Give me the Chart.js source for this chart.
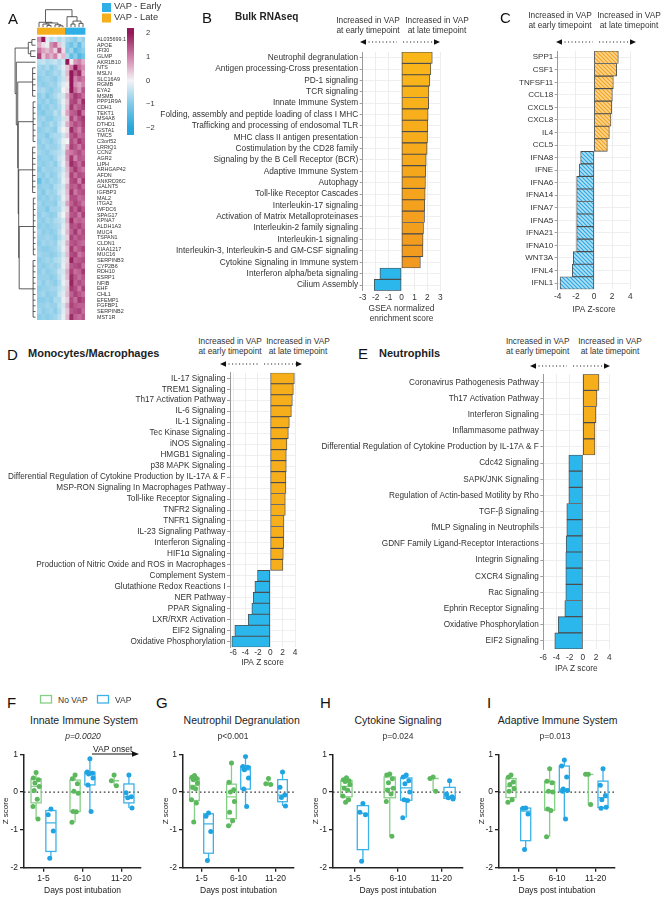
<!DOCTYPE html>
<html><head><meta charset="utf-8">
<script src="https://cdn.jsdelivr.net/npm/chart.js@4.4.1/dist/chart.umd.min.js"></script>
<style>
body{margin:0;width:666px;height:899px;background:#fff;position:relative;overflow:hidden;font-family:"Liberation Sans",Arial,sans-serif;color:#222}
canvas{position:absolute}
.t{position:absolute;white-space:nowrap;line-height:1}
.hd{position:absolute;font-size:8.3px;line-height:9.6px;text-align:center;color:#333;transform:translateX(-50%);white-space:nowrap}
.let{position:absolute;font-size:15px;line-height:1;color:#111}
.ct{position:absolute;transform:translateX(-50%);white-space:nowrap;line-height:1}
#ov{position:absolute;left:0;top:0;pointer-events:none}
</style></head><body>
<script>
// ---------------- DATA ----------------
// Panel A heatmap
const heatGenes = ['AL035699.1','APOE','IFI30','GLMP','AKR1B10','NTS','MSLN','SLC16A9','RGMB','EYA2','MSMB','PPP1R9A','CDH1','TEKT1','MS4A8','DTHD1','GSTA1','TMC5','C3orf52','LRRIQ1','CCN2','AGR2','LIPH','ARHGAP42','AFDN','ANKRD36C','GALNT5','IGFBP3','MAL2','ITGA2','WFDC6','SPAG17','KPNA7','ALDH1A3','MUC4','TSPAN1','CLDN1','KIAA1217','MUC16','SERPINB3','CYP2B6','RDH10','ESRP1','NFIB','EHF','CHL1','EFEMP1','FGFBP1','SERPINB2','MST1R'];
const heatSampleGroups = ['Late','Late','Late','Late','Late','Late','Late','Early','Early','Early','Early','Early'];
const heatValues = [
[0.9,2.2,-0.2,-0.5,-0.3,-0.6,-0.4,-0.7,-0.8,-1.0,-0.6,-0.8],
[0.6,0.2,-0.1,0.9,1.2,0.4,-0.3,-0.9,-1.2,-0.8,-1.3,-0.7],
[1.1,0.7,0.5,0.8,0.3,1.4,0.2,-1.0,-0.7,-1.4,-1.1,-0.9],
[1.6,0.4,0.9,0.6,1.0,0.2,0.5,-0.6,-1.3,-0.9,-1.5,-1.2],
[-0.5,-0.4,-0.6,-0.5,-0.4,-0.6,-0.3,2.3,0.1,0.8,1.0,0.6],
[-0.7,-0.8,-0.6,-0.9,-0.7,-0.5,-0.2,0.4,1.0,2.0,1.2,0.9],
[-0.8,-0.7,-0.9,-0.8,-0.6,-0.7,-0.3,0.5,2.2,1.4,1.8,0.7],
[-0.9,-0.8,-0.7,-0.8,-0.9,-0.6,-0.4,0.3,2.0,1.0,1.3,1.1],
[-0.8,-0.9,-0.8,-0.7,-0.8,-0.5,-0.2,0.1,2.3,0.9,0.7,1.0],
[-0.7,-0.6,-0.8,-0.9,-0.7,-0.6,0.0,0.2,2.1,1.2,0.8,1.4],
[-0.9,-0.7,-1.0,-0.8,-0.6,-0.4,-0.3,0.6,1.3,1.7,1.5,1.2],
[-0.8,-0.9,-0.7,-0.9,-0.8,-0.5,-0.1,0.4,1.5,1.6,1.1,1.8],
[-1.0,-0.8,-0.9,-0.7,-0.8,-0.6,-0.2,0.5,1.7,1.2,1.4,1.6],
[-0.9,-1.0,-0.8,-0.8,-0.5,-0.7,0.1,0.7,1.3,1.4,1.8,1.1],
[-0.8,-0.7,-0.9,-0.9,-0.7,-0.6,-0.3,0.3,1.6,1.1,1.5,1.7],
[-0.7,-0.9,-0.8,-0.6,-0.8,-0.5,-0.2,0.6,1.2,1.5,1.3,1.6],
[-0.9,-0.8,-0.7,-0.8,-0.9,-0.4,0.0,0.2,1.8,1.3,1.0,1.5],
[-0.8,-0.8,-1.0,-0.7,-0.6,-0.6,-0.3,0.4,1.4,1.6,1.2,1.3],
[-0.9,-0.7,-0.8,-0.9,-0.7,-0.5,-0.1,0.0,1.5,1.2,1.7,1.4],
[-0.8,-0.9,-0.7,-0.8,-0.8,-0.6,-0.2,0.5,1.6,1.4,1.1,1.5],
[-0.7,-0.8,-0.9,-0.7,-0.6,-0.5,-0.3,0.9,1.1,1.3,1.5,1.2],
[-0.9,-0.8,-0.8,-0.9,-0.7,-0.4,-0.2,0.8,1.7,1.0,1.4,1.3],
[-0.8,-0.9,-0.8,-0.7,-0.9,-0.5,-0.1,0.6,1.8,1.5,1.2,1.6],
[-1.0,-0.7,-0.8,-0.8,-0.7,-0.6,-0.3,0.5,1.3,1.7,1.3,1.1],
[-0.8,-0.9,-0.7,-0.9,-0.8,-0.5,-0.2,0.4,1.6,1.2,1.5,1.4],
[-1.3,-0.8,-0.9,-0.7,-0.8,-0.6,-0.1,0.3,1.5,1.6,1.0,1.7],
[-0.9,-0.8,-0.8,-0.9,-0.6,-0.5,-0.3,0.6,1.4,1.3,1.6,1.2],
[-0.8,-1.0,-0.7,-0.8,-0.7,-0.4,-0.2,0.5,1.7,1.1,1.4,1.5],
[-0.9,-0.8,-0.9,-0.7,-0.8,-0.6,-0.1,0.4,1.5,1.5,1.2,1.3],
[-0.7,-0.9,-0.8,-0.8,-0.9,-0.5,-0.3,0.7,1.3,1.6,1.4,1.1],
[-0.8,-0.8,-1.0,-0.7,-0.7,-0.6,-0.2,0.3,1.6,1.3,1.7,1.4],
[-0.9,-0.7,-0.8,-0.9,-0.8,-0.4,0.0,0.5,1.4,1.5,1.1,1.6],
[-0.8,-0.9,-0.7,-0.8,-0.6,-0.5,-0.3,0.6,1.8,1.2,1.3,1.2],
[-0.9,-0.8,-0.9,-0.8,-0.7,-0.6,-0.2,0.4,1.5,1.4,1.6,1.3],
[-0.7,-0.9,-0.8,-0.9,-0.8,-0.5,-0.1,0.5,1.3,1.7,1.2,1.5],
[-0.8,-0.8,-0.7,-0.8,-0.9,-0.6,-0.3,0.3,1.6,1.3,1.5,1.4],
[-0.9,-0.7,-0.8,-0.7,-0.8,-0.4,-0.2,0.6,1.4,1.5,1.3,1.2],
[-0.8,-0.9,-0.9,-0.8,-0.7,-0.5,-0.1,0.4,1.7,1.2,1.4,1.6],
[-0.7,-0.8,-0.8,-0.9,-0.8,-0.6,-0.3,0.5,1.5,1.6,1.1,1.3],
[-0.9,-0.8,-0.7,-0.8,-0.6,-0.5,-0.2,0.3,1.9,1.3,1.4,1.5],
[-0.8,-0.9,-0.8,-0.7,-0.8,-0.6,-0.1,0.4,1.4,1.5,1.6,1.2],
[-0.9,-0.7,-0.9,-0.8,-0.7,-0.4,-0.3,0.6,1.6,1.2,1.3,1.7],
[-0.8,-0.8,-0.8,-0.9,-0.8,-0.5,-0.2,0.5,1.8,1.4,1.2,1.4],
[-0.7,-0.9,-0.7,-0.8,-0.9,-0.6,-0.1,0.3,1.9,1.3,1.5,1.3],
[-0.9,-0.8,-0.8,-0.7,-0.7,-0.5,-0.3,0.4,1.7,1.5,1.1,1.6],
[-0.8,-0.7,-0.9,-0.8,-0.8,-0.4,-0.2,0.5,1.3,1.6,1.4,1.2],
[-0.9,-0.9,-0.8,-0.9,-0.6,-0.6,-0.1,0.3,1.5,1.2,1.7,1.5],
[-0.8,-0.8,-0.7,-0.8,-0.8,-0.5,-0.3,0.6,1.6,1.4,1.3,1.3],
[-0.7,-0.9,-0.8,-0.7,-0.9,-0.6,-0.2,0.4,1.4,1.5,1.6,1.2],
[-0.9,-0.8,-0.9,-0.8,-0.7,-0.5,-0.1,0.5,1.8,1.3,1.2,1.4]];
const heatLegendTicks = [-2,-1,0,1,2];
const heatLegendRange = [-2.29, 2.21];
// sample and gene clustering (merge heights, leaves = column / row index)
const sampleTree = {h:1,c:[{h:0.28,c:[0,{h:0.24,c:[{h:0.18,c:[1,{h:0.1,c:[2,3]}]},{h:0.14,c:[4,{h:0.08,c:[5,6]}]}]}]},{h:0.6,c:[7,{h:0.35,c:[{h:0.18,c:[8,9]},{h:0.22,c:[10,11]}]}]}]};
const geneTree = {h:0.85,c:[{h:0.3,c:[{h:0.15,c:[0,1]},{h:0.2,c:[2,3]}]},{h:0.8,c:[4,{h:0.74,c:[{h:0.12,c:[5,6,7,8,9,10]},{h:0.72,c:[{h:0.1,c:[11,12,13,14,15,16,17,18]},{h:0.7,c:[{h:0.12,c:[19,20,21,22,23,24,25,26,27]},{h:0.68,c:[{h:0.09,c:[28,29,30,31,32,33,34,35,36,37,38]},{h:0.1,c:[39,40,41,42,43,44,45,46,47,48,49]}]}]}]}]}]}]};

// Panel B
const bulkPathways = ['Neutrophil degranulation','Antigen processing-Cross presentation','PD-1 signaling','TCR signaling','Innate Immune System','Folding, assembly and peptide loading of class I MHC','Trafficking and processing of endosomal TLR','MHC class II antigen presentation','Costimulation by the CD28 family','Signaling by the B Cell Receptor (BCR)','Adaptive Immune System','Autophagy','Toll-like Receptor Cascades','Interleukin-17 signaling','Activation of Matrix Metalloproteinases','Interleukin-2 family signaling','Interleukin-1 signaling','Interleukin-3, Interleukin-5 and GM-CSF signaling','Cytokine Signaling in Immune system','Interferon alpha/beta signaling','Cilium Assembly'];
const bulkNES = [2.38,2.27,2.19,2.12,2.1,2.06,2.04,2.01,1.98,1.91,1.88,1.85,1.83,1.8,1.78,1.7,1.67,1.66,1.46,-1.67,-2.11];
const bulkTicks = [-3,-2,-1,0,1,2,3];

// Panel C
const ipaRegulators = ['SPP1','CSF1','TNFSF11','CCL18','CXCL5','CXCL8','IL4','CCL5','IFNA8','IFNE','IFNA6','IFNA14','IFNA7','IFNA5','IFNA21','IFNA10','WNT3A','IFNL4','IFNL1'];
const ipaRegZ = [2.68,2.5,2.13,2.02,1.94,1.87,1.69,1.47,-1.47,-1.61,-1.91,-1.91,-1.91,-1.91,-1.91,-1.91,-2.28,-2.39,-3.74];
const ipaRegTicks = [-4,-2,0,2,4];

// Panel D
const monoPathways = ['IL-17 Signaling','TREM1 Signaling','Th17 Activation Pathway','IL-6 Signaling','IL-1 Signaling','Tec Kinase Signaling','iNOS Signaling','HMGB1 Signaling','p38 MAPK Signaling','Differential Regulation of Cytokine Production by IL-17A & F','MSP-RON Signaling In Macrophages Pathway','Toll-like Receptor Signaling','TNFR2 Signaling','TNFR1 Signaling','IL-23 Signaling Pathway','Interferon Signaling','HIF1\u03b1 Signaling','Production of Nitric Oxide and ROS in Macrophages','Complement System','Glutathione Redox Reactions I','NER Pathway','PPAR Signaling','LXR/RXR Activation','EIF2 Signaling','Oxidative Phosphorylation'];
const monoZ = [3.89,3.73,3.57,3.41,3.08,2.92,2.7,2.59,2.59,2.54,2.54,2.43,2.43,2.22,2.22,2.16,2.11,2.05,-2.05,-2.48,-2.75,-2.97,-3.56,-5.72,-6.2];

// Panel E
const neutPathways = ['Coronavirus Pathogenesis Pathway','Th17 Activation Pathway','Interferon Signaling','Inflammasome pathway','Differential Regulation of Cytokine Production by IL-17A & F','Cdc42 Signaling','SAPK/JNK Signaling','Regulation of Actin-based Motility by Rho','TGF-\u03b2 Signaling','fMLP Signaling in Neutrophils','GDNF Family Ligand-Receptor Interactions','Integrin Signaling','CXCR4 Signaling','Rac Signaling','Ephrin Receptor Signaling','Oxidative Phosphorylation','EIF2 Signaling'];
const neutZ = [2.44,2.13,1.98,1.83,1.83,-2.13,-2.13,-2.13,-2.44,-2.44,-2.54,-2.59,-2.59,-2.59,-2.74,-3.74,-4.26];
const ipaTicks = [-6,-4,-2,0,2,4];

// Panels F-I  (z scores per day bin: [1-5],[6-10],[11-20])
const dayBins = ['1-5','6-10','11-20'];
const zTicks = [-2,-1,0,1];
const innateNoVAP = [[0.52,0.37,0.33,0.24,0.15,0.04,-0.19,-0.38,-0.71],[0.45,0.35,0.22,0.02,-0.03,-0.51,-0.52,-0.8],[0.45,0.3,0.17]];
const innateVAP   = [[-0.45,-0.6,-1.03,-1.75],[0.88,0.53,0.5,0.48,0.37,0.19,-0.51],[0.45,-0.02,-0.12,-0.15,-0.42]];
const neutroNoVAP = [[0.44,0.39,0.36,0.33,0.24,0.12,0.09,-0.2,-0.29,-0.79],[0.77,0.26,0.06,0.0,-0.25,-0.53,-0.76,-0.89],[0.36,0.22,0.2]];
const neutroVAP   = [[-0.55,-0.64,-1.04,-1.81],[0.94,0.68,0.66,0.59,0.37,0.08,-0.38],[0.53,0.13,-0.08,-0.14,-0.37]];
const cytoNoVAP   = [[0.38,0.33,0.3,0.28,0.2,0.1,0.05,-0.1,-0.2,-0.27],[0.48,0.45,0.35,0.25,0.1,0.05,-0.05,-0.25,-1.17],[0.4,0.36,0.02]];
const cytoVAP     = [[-0.3,-0.53,-0.6,-1.83],[0.45,0.4,0.3,0.22,0.0,-0.2,-0.22,-0.68],[0.3,-0.05,-0.12,-0.15,-0.18]];
const adaptNoVAP  = [[0.45,0.39,0.27,0.2,0.09,0.02,-0.2,-0.27],[0.62,0.29,0.25,0.02,0.0,-0.45,-0.49,-1.18],[0.47,0.47,-0.33]];
const adaptVAP    = [[-0.42,-0.43,-0.58,-1.52],[0.85,0.69,0.4,0.08,0.04,0.02,-0.71],[0.62,0.18,-0.09,-0.2,-0.4,-0.43]];

// ---------------- STYLE / HELPERS ----------------
const FONT = '"Liberation Sans", Arial, sans-serif';
Chart.defaults.font.family = FONT;
Chart.defaults.color = '#333';
Chart.defaults.animation = false;
Chart.defaults.responsive = false;
Chart.defaults.plugins.legend.display = false;
Chart.defaults.plugins.tooltip.enabled = false;

const ORANGE = '#f7ae1b', BLUE = '#2bb6ec';
const GREEN_PT = '#5cb85c', GREEN_BOX = '#86cf86', BLUE_PT = '#1fa3e2', BLUE_BOX = '#3db2e8';
const JIT = [0,-0.07,0.06,-0.03,0.08,-0.05,0.03,-0.08,0.05,-0.02];

function mk(cv){const c=document.createElement('canvas');c.width=cv.w;c.height=cv.h;c.style.left=cv.l+'px';c.style.top=cv.t+'px';document.body.appendChild(c);return c;}
const fixY = w => s => { s.width = w; s.paddingTop = 0; s.paddingBottom = 0; };
const fixX = h => s => { s.height = h; s.paddingLeft = 0; s.paddingRight = 0; };
const setTicks = arr => s => { s.ticks = arr.map(v => ({value:v})); };

function lerpHex(a,b,t){const pa=[1,3,5].map(i=>parseInt(a.substr(i,2),16)),pb=[1,3,5].map(i=>parseInt(b.substr(i,2),16));return 'rgb('+pa.map((v,i)=>Math.round(v+(pb[i]-v)*t)).join(',')+')';}
const HEAT_STOPS = [[-2,[38,166,220]],[-1,[128,202,232]],[0,[244,243,244]],[1,[208,128,170]],[2,[146,26,90]]];
function heatColor(v){
  if(v<=HEAT_STOPS[0][0]) return 'rgb('+HEAT_STOPS[0][1].join(',')+')';
  for(let i=1;i<HEAT_STOPS.length;i++){ if(v<=HEAT_STOPS[i][0]){const [a,ca]=HEAT_STOPS[i-1],[b,cb]=HEAT_STOPS[i];const t=(v-a)/(b-a);return 'rgb('+ca.map((x,k)=>Math.round(x+(cb[k]-x)*t)).join(',')+')';}}
  return 'rgb('+HEAT_STOPS[HEAT_STOPS.length-1][1].join(',')+')';
}

function hatch(base,line){const p=document.createElement('canvas');p.width=p.height=4;const g=p.getContext('2d');g.fillStyle=base;g.fillRect(0,0,4,4);g.strokeStyle=line;g.lineWidth=1.2;g.beginPath();g.moveTo(0,0);g.lineTo(4,4);g.moveTo(-1,3);g.lineTo(1,5);g.moveTo(3,-1);g.lineTo(5,1);g.stroke();return g.createPattern(p,'repeat');}

function hbar(cv, area, labels, values, o){
  const c = mk(cv);
  return new Chart(c, {
    type:'bar',
    data:{labels, datasets:[{data:values, backgroundColor:o.colors, borderColor:'#4d4d4d', borderWidth:0.9, borderSkipped:false, barPercentage:1, categoryPercentage:1}]},
    options:{
      indexAxis:'y',
      layout:{padding:{left:0, top:area.t-cv.t, right:cv.l+cv.w-area.r, bottom:0}},
      scales:{
        x:{min:o.min, max:o.max, afterBuildTicks:setTicks(o.ticks), afterFit:fixX(cv.t+cv.h-area.b),
           grid:{color:'#e9e9e9', lineWidth:0.8, drawTicks:false}, border:{display:false},
           ticks:{font:{size:8.3}, color:'#333', padding:o.tickPad, maxRotation:0},
           title:{display:true, text:o.title, font:{size:8.3}, color:'#333', padding:{top:0,bottom:2}}},
        y:{afterFit:fixY(area.l-cv.l), grid:{color:'#ebebeb', lineWidth:0.8, offset:false, tickLength:3, tickColor:'#888'}, border:{color:'#9a9a9a', width:1},
           ticks:{font:{size:o.fs}, color:'#333', padding:1.5, autoSkip:false}}
      }
    }
  });
}

// box plot drawing through the chart scales
function qt(s,p){const n=s.length;const pos=(n+1)*p;if(pos<=1)return s[0];if(pos>=n)return s[n-1];const lo=Math.floor(pos);return s[lo-1]+(pos-lo)*(s[lo]-s[lo-1]);}
function stats(g){const s=[...g].sort((a,b)=>a-b);return {min:s[0],max:s[s.length-1],q1:qt(s,0.25),q3:qt(s,0.75),med:qt(s,0.5),n:s.length};}
const boxPlugin = {id:'boxes', beforeDatasetsDraw(chart){
  const {ctx, scales:{x,y}, chartArea:a} = chart;
  ctx.save();
  const y0 = y.getPixelForValue(0);
  ctx.setLineDash([1.6,2.6]); ctx.strokeStyle='#333'; ctx.lineWidth=1.1;
  ctx.beginPath(); ctx.moveTo(a.left,y0); ctx.lineTo(a.right,y0); ctx.stroke(); ctx.setLineDash([]);
  chart.data.datasets.forEach(ds=>{
    ds.groups.forEach((g,i)=>{
      const s=stats(g), cx=i+0.5+ds.off, hw=0.13;
      const xl=x.getPixelForValue(cx-hw), xr=x.getPixelForValue(cx+hw), xc=x.getPixelForValue(cx);
      const P=v=>y.getPixelForValue(v);
      ctx.strokeStyle=ds.boxColor; ctx.lineWidth=1.3;
      ctx.beginPath();
      if(s.n>3){ ctx.moveTo(xc,P(s.max)); ctx.lineTo(xc,P(s.q3)); ctx.moveTo(xc,P(s.q1)); ctx.lineTo(xc,P(s.min)); }
      else { ctx.moveTo(xc,P(s.max)); ctx.lineTo(xc,P(s.min)); }
      ctx.moveTo(xl,P(s.med)); ctx.lineTo(xr,P(s.med));
      ctx.stroke();
      if(s.n>3) ctx.strokeRect(xl,P(s.q3),xr-xl,P(s.q1)-P(s.q3));
    });
  });
  ctx.restore();
}};
function boxChart(cv, area, noVap, vap){
  const OFF=0.19;
  const pts=(groups,off)=>groups.flatMap((g,i)=>g.map((v,k)=>({x:i+0.5+off+JIT[k%JIT.length],y:v})));
  const axisCommon = {grid:{drawOnChartArea:false, tickLength:4, color:'#222', lineWidth:1.3}, border:{color:'#222', width:1.5}};
  return new Chart(mk(cv), {type:'scatter',
    data:{datasets:[
      {data:pts(noVap,-OFF), backgroundColor:GREEN_PT, borderWidth:0, pointRadius:2.5, groups:noVap, off:-OFF, boxColor:GREEN_BOX},
      {data:pts(vap,OFF), backgroundColor:BLUE_PT, borderWidth:0, pointRadius:2.5, groups:vap, off:OFF, boxColor:BLUE_BOX}]},
    options:{
      layout:{padding:{left:0, top:area.t-cv.t, right:cv.l+cv.w-area.r, bottom:0}},
      scales:{
        x:{type:'linear', min:0, max:dayBins.length, afterBuildTicks:setTicks(dayBins.map((d,i)=>i+0.5)), afterFit:fixX(cv.t+cv.h-area.b), ...axisCommon,
           ticks:{callback:v=>dayBins[Math.floor(v)], font:{size:8.5}, color:'#222', padding:2, maxRotation:0},
           title:{display:true, text:'Days post intubation', font:{size:8.5}, color:'#222', padding:{top:0,bottom:2}}},
        y:{min:-2, max:1, afterBuildTicks:setTicks(zTicks), afterFit:fixY(area.l-cv.l), ...axisCommon,
           ticks:{font:{size:8.5}, color:'#222', padding:2},
           title:{display:true, text:'Z score', font:{size:8}, color:'#222', padding:{top:1,bottom:0}}}
      }
    },
    plugins:[boxPlugin]});
}

// ---------------- PANEL A: heatmap ----------------
function drawTree(ctx,node,leafPos,lvl,vertical){
  if(typeof node==='number') return {p:leafPos(node),h:0};
  const kids=node.c.map(k=>drawTree(ctx,k,leafPos,lvl,vertical));
  const H=lvl(node.h), ps=kids.map(k=>k.p), mn=Math.min(...ps), mx=Math.max(...ps);
  ctx.beginPath();
  kids.forEach(k=>{ if(vertical){ctx.moveTo(k.p,lvl(k.h));ctx.lineTo(k.p,H);} else {ctx.moveTo(lvl(k.h),k.p);ctx.lineTo(H,k.p);} });
  if(vertical){ctx.moveTo(mn,H);ctx.lineTo(mx,H);} else {ctx.moveTo(H,mn);ctx.lineTo(H,mx);}
  ctx.stroke();
  return {p:(mn+mx)/2,h:node.h};
}
const heatDeco = {id:'heatDeco', afterDraw(chart){
  const {ctx, scales:{x,y}, chartArea:a} = chart;
  ctx.save();
  heatSampleGroups.forEach((g,j)=>{ const x0=x.getPixelForValue(j), x1=x.getPixelForValue(j+1);
    ctx.fillStyle = g==='Late' ? ORANGE : '#2eb0e6'; ctx.fillRect(x0,a.top-9,x1-x0+0.4,7); });
  ctx.strokeStyle='#333'; ctx.lineWidth=0.8;
  drawTree(ctx, sampleTree, j=>x.getPixelForValue(j+0.5), h=>(a.top-9.5)-h*17.5, true);
  drawTree(ctx, geneTree, i=>y.getPixelForValue(i), h=>(a.left-1.5)-h*24, false);
  ctx.restore();
}};
(function(){
  const cv={l:0,t:0,w:128,h:325}, area={l:37,r:85,t:36.7,b:320};
  new Chart(mk(cv), {type:'bar',
    data:{labels:heatGenes, datasets:heatSampleGroups.map((g,j)=>({data:heatGenes.map(()=>1), backgroundColor:heatValues.map(r=>heatColor(r[j])), borderWidth:0, barPercentage:1, categoryPercentage:1}))},
    options:{indexAxis:'y',
      layout:{padding:{left:area.l, top:area.t, right:0, bottom:cv.h-area.b}},
      scales:{x:{stacked:true, min:0, max:heatSampleGroups.length, display:false},
              y:{stacked:true, position:'right', grid:{display:false}, border:{display:false}, afterFit:fixY(cv.w-area.r),
                 ticks:{font:{size:5.4}, color:'#333', padding:4, autoSkip:false}}}},
    plugins:[heatDeco]});
  // colour key
  const lcv={l:118,t:22,w:42,h:122}, la={l:127,r:134,t:28,b:135};
  new Chart(mk(lcv), {type:'bar',
    data:{labels:['key'], datasets:[{data:[heatLegendRange], borderWidth:0, barPercentage:1, categoryPercentage:1,
      backgroundColor:(c)=>{const ch=c.chart, a=ch.chartArea; if(!a) return '#ccc'; const y=ch.scales.y;
        const g=ch.ctx.createLinearGradient(0,y.getPixelForValue(-2),0,y.getPixelForValue(2));
        HEAT_STOPS.forEach(([v,col])=>g.addColorStop((v+2)/4,'rgb('+col.join(',')+')')); return g;}}]},
    options:{layout:{padding:{left:la.l-lcv.l, top:la.t-lcv.t, right:0, bottom:lcv.t+lcv.h-la.b}},
      scales:{x:{display:false},
              y:{position:'right', min:heatLegendRange[0], max:heatLegendRange[1], afterBuildTicks:setTicks(heatLegendTicks), afterFit:fixY(lcv.l+lcv.w-la.r),
                 grid:{display:false}, border:{display:false},
                 ticks:{font:{size:7.5}, color:'#333', padding:4, callback:v=>v<0?'\u2212'+(-v):String(v)}}}}});
})();

// ---------------- PANEL B ----------------
(function(){
  const nPos = bulkNES.filter(v=>v>0).length;
  const cols = bulkNES.map((v,i)=> v>0 ? lerpHex('#f9b719','#f29a1f', i/Math.max(1,nPos-1)) : BLUE);
  hbar({l:150,t:45,w:296,h:281},{l:362.7,r:440.3,t:52,b:290.7}, bulkPathways, bulkNES,
       {min:-3,max:3,ticks:bulkTicks,colors:cols,title:['GSEA normalized','enrichment score'],tickPad:2,fs:8.3});
})();
// ---------------- PANEL C ----------------
(function(){
  const po=hatch('#fcd690','#f2a21c'), pb=hatch('#b3e0f5','#2aa8e2');
  hbar({l:470,t:45,w:196,h:272},{l:557.7,r:630.3,t:51,b:289.3}, ipaRegulators, ipaRegZ,
       {min:-4,max:4,ticks:ipaRegTicks,colors:ipaRegZ.map(v=>v>0?po:pb),title:'IPA Z-score',tickPad:2,fs:8});
})();
// ---------------- PANEL D ----------------
hbar({l:0,t:368,w:305,h:302},{l:230,r:295,t:372.8,b:647.2}, monoPathways, monoZ,
     {min:-6.5,max:4,ticks:ipaTicks,colors:monoZ.map(v=>v>0?ORANGE:BLUE),title:'IPA Z score',tickPad:1,fs:8.2});
// ---------------- PANEL E ----------------
hbar({l:318,t:368,w:300,h:308},{l:543.3,r:609.3,t:374.2,b:649}, neutPathways, neutZ,
     {min:-6,max:4,ticks:ipaTicks,colors:neutZ.map(v=>v>0?ORANGE:BLUE),title:'IPA Z score',tickPad:4,fs:8.2});
// ---------------- PANELS F-I ----------------
boxChart({l:0,t:740,w:150,h:158},{l:24,r:141,t:754.3,b:867.7}, innateNoVAP, innateVAP);
boxChart({l:160,t:740,w:145,h:158},{l:183,r:294,t:754.3,b:867.7}, neutroNoVAP, neutroVAP);
boxChart({l:310,t:740,w:160,h:158},{l:333,r:463,t:754.3,b:867.7}, cytoNoVAP, cytoVAP);
boxChart({l:476,t:740,w:160,h:158},{l:499,r:615,t:754.3,b:867.7}, adaptNoVAP, adaptVAP);

// ---------------- TEXT & ANNOTATIONS ----------------
function addDiv(cls,x,y,html,style){const d=document.createElement('div');d.className=cls;d.style.left=x+'px';d.style.top=y+'px';d.innerHTML=html;if(style)d.style.cssText+=style;document.body.appendChild(d);}
[['A',8,11],['B',202,10],['C',500,10],['D',7,347],['E',358,346],['F',7,695],['G',156,695],['H',320,695],['I',487,695]].forEach(([t,x,y])=>addDiv('let',x,y,t));
addDiv('t',235,12,'Bulk RNAseq','font-weight:bold;font-size:10px;color:#222');
addDiv('t',28,348,'Monocytes/Macrophages','font-weight:bold;font-size:11px;color:#222');
addDiv('t',379,348,'Neutrophils','font-weight:bold;font-size:11px;color:#222');
addDiv('t',114,2,'VAP - Early','font-size:9.3px;color:#333');
addDiv('t',114,12.5,'VAP - Late','font-size:9.3px;color:#333');
const H1='Increased in VAP<br>at early timepoint', H2='Increased in VAP<br>at late timepoint';
[[368,437,16],[560,629,11],[230,298,337],[537.7,610,337]].forEach(([a,b,y])=>{addDiv('hd',a,y,H1);addDiv('hd',b,y,H2);});
[['Innate Immune System',84,714.5],['Neutrophil Degranulation',241.7,714.5],['Cytokine Signaling',398,714.5],['Adaptive Immune System',557.7,714.5]].forEach(([t,x,y])=>addDiv('ct',x,y,t,'font-size:10.5px;color:#222'));
[['p=0.0020',83,731.5,'italic'],['p<0.001',233,731.5,'normal'],['p=0.024',398,731.5,'normal'],['p=0.013',555,731.5,'normal']].forEach(([t,x,y,fs])=>addDiv('ct',x,y,t,'font-size:8.5px;color:#333;font-style:'+fs));
addDiv('t',58,695.5,'No VAP','font-size:8.5px;color:#333');
addDiv('t',115,695.5,'VAP','font-size:8.5px;color:#333');
addDiv('t',93,744.5,'VAP onset','font-size:8.5px;color:#222');

let svg='<svg id="ov" width="666" height="899" xmlns="http://www.w3.org/2000/svg">';
svg+='<rect x="102" y="3" width="9" height="9" fill="#2eb0e6"/><rect x="102" y="13.5" width="9" height="9" fill="'+ORANGE+'"/>';
function dArrow(x1,x2,y){const m=(x1+x2)/2;
  svg+=`<line x1="${x1+5}" y1="${y}" x2="${m-3}" y2="${y}" stroke="#222" stroke-width="1.1" stroke-dasharray="1.1,2.4"/>`;
  svg+=`<line x1="${m+3}" y1="${y}" x2="${x2-5}" y2="${y}" stroke="#222" stroke-width="1.1" stroke-dasharray="1.1,2.4"/>`;
  svg+=`<polygon points="${x1},${y} ${x1+6},${y-2.8} ${x1+6},${y+2.8}" fill="#111"/><polygon points="${x2},${y} ${x2-6},${y-2.8} ${x2-6},${y+2.8}" fill="#111"/>`;}
dArrow(360,440,42); dArrow(556,636,42); dArrow(220,302,364); dArrow(530,610,366);
svg+='<line x1="92" y1="754" x2="133" y2="754" stroke="#111" stroke-width="1"/><polygon points="139,754 132,751.3 132,756.7" fill="#111"/>';
svg+='<rect x="40.5" y="695.5" width="11" height="7.5" fill="none" stroke="'+GREEN_BOX+'" stroke-width="1.3"/>';
svg+='<rect x="97.5" y="695.5" width="11" height="7.5" fill="none" stroke="'+BLUE_BOX+'" stroke-width="1.3"/>';
svg+='</svg>';
document.body.insertAdjacentHTML('beforeend',svg);
</script>
</body></html>
